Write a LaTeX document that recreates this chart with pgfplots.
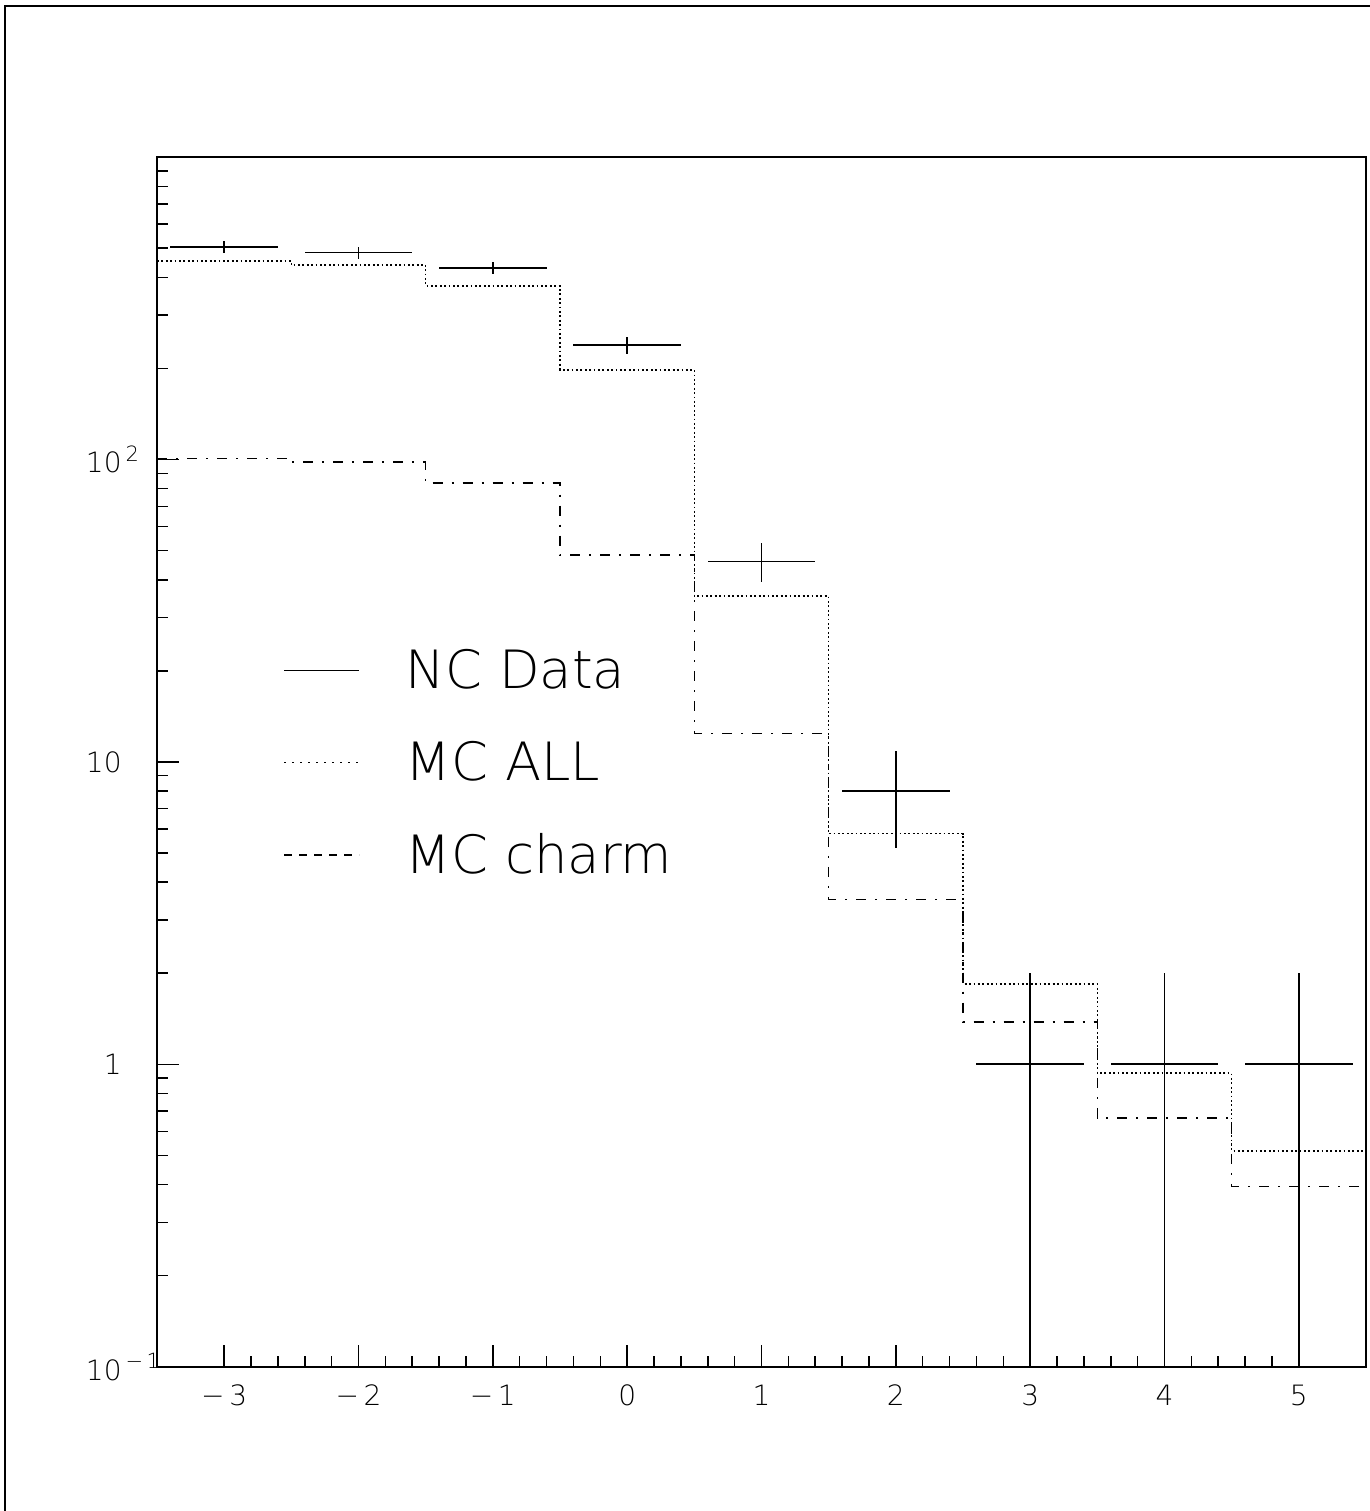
\documentclass[border=0pt]{standalone}
\usepackage{fontspec}
\setmainfont{DejaVu Sans ExtraLight}
\usepackage{pgfplots}
\usepackage{pgfplotstable}
\pgfplotsset{compat=1.18}
\pgfplotstableread{
x y ex eyp eym
-3 505 0.4 22.5 22.5
-2 483 0.4 22.0 22.0
-1 430 0.4 20.7 20.7
0 239 0.4 15.5 15.5
1 46 0.4 6.78 6.78
2 8 0.4 2.83 2.83
3 1 0.4 1 0.99
4 1 0.4 1 0.99
5 1 0.4 1 0.99
}\datatab
\newcommand\expo[1]{\rlap{\hspace{2pt}\raisebox{0.42em}{\fontsize{10.5}{12}\selectfont #1}}}
\begin{document}
\begin{tikzpicture}
\path[use as bounding box] (0,0) rectangle (685pt,755.5pt);
\draw[line width=1pt] (2.5pt,0) -- (2.5pt,752.5pt) -- (685pt,752.5pt);
\begin{axis}[
 at={(78.5pt,72.15pt)}, anchor=south west,
 scale only axis, width=604.5pt, height=604.85pt,
 xmin=-3.5, xmax=5.5, ymode=log, ymin=0.1, ymax=1000,
 xtick={-3,...,5}, xticklabels={−\,3,−\,2,−\,1,0,1,2,3,4,5},
 minor x tick num=4,
 ytick={0.1,1,10,100},
 yticklabels={10\expo{−\,1},1,10,10\expo{2}},
 minor ytick={0.2,0.3,0.4,0.5,0.6,0.7,0.8,0.9,2,3,4,5,6,7,8,9,20,30,40,50,60,70,80,90,200,300,400,500,600,700,800,900},
 tick align=inside, tick pos=left,
 major tick length=11pt, minor tick length=5.5pt,
 every tick/.style={black, line width=0.75pt},
 axis line style={line width=1pt},
 tick label style={font=\fontsize{14}{16}\selectfont, inner sep=0pt},
 xticklabel style={yshift=-9pt},
 yticklabel style={xshift=-17.5pt},
 legend style={draw=none, fill=none, at={(0.1042,0.499)}, anchor=west, inner sep=0pt, row sep=25pt, column sep=23pt, font=\fontsize{26.4}{30}\selectfont, nodes={inner sep=0pt}},
 legend cell align=left,
 legend image code/.code={\draw[#1] (0pt,0pt) -- (37.5pt,0pt);},
]
\addlegendimage{solid, line width=0.8pt}
\addlegendentry{NC Data}
\addlegendimage{line width=0.8pt, dash pattern=on 0.75pt off 3.25pt}
\addlegendentry{MC ALL}
\addlegendimage{line width=0.8pt, dash pattern=on 4pt off 3.5pt}
\addlegendentry{MC charm}

\addplot[forget plot, const plot, line width=0.8pt, dash pattern=on 0.9pt off 1.3pt] coordinates {
(-3.5,454) (-2.5,440) (-1.5,375) (-0.5,198) (0.5,35.3) (1.5,5.79) (2.5,1.84) (3.5,0.934) (4.5,0.517) (5.5,0.517)};
\addplot[forget plot, const plot, line width=0.8pt, dash pattern=on 5pt off 4.5pt on 1pt off 4.5pt] coordinates {
(-3.5,100.6) (-2.5,97.9) (-1.5,83.6) (-0.5,48.2) (0.5,12.4) (1.5,3.51) (2.5,1.38) (3.5,0.663) (4.5,0.395) (5.5,0.395)};
\addplot[forget plot, draw=none, mark=none,
 error bars/.cd, x dir=both, x explicit, y dir=both, y explicit, error mark=none,
 error bar style={draw=black, solid, line width=0.8pt}]
 table[x=x, y=y, x error=ex, y error plus=eyp, y error minus=eym] {\datatab};
\end{axis}
\end{tikzpicture}
\end{document}
